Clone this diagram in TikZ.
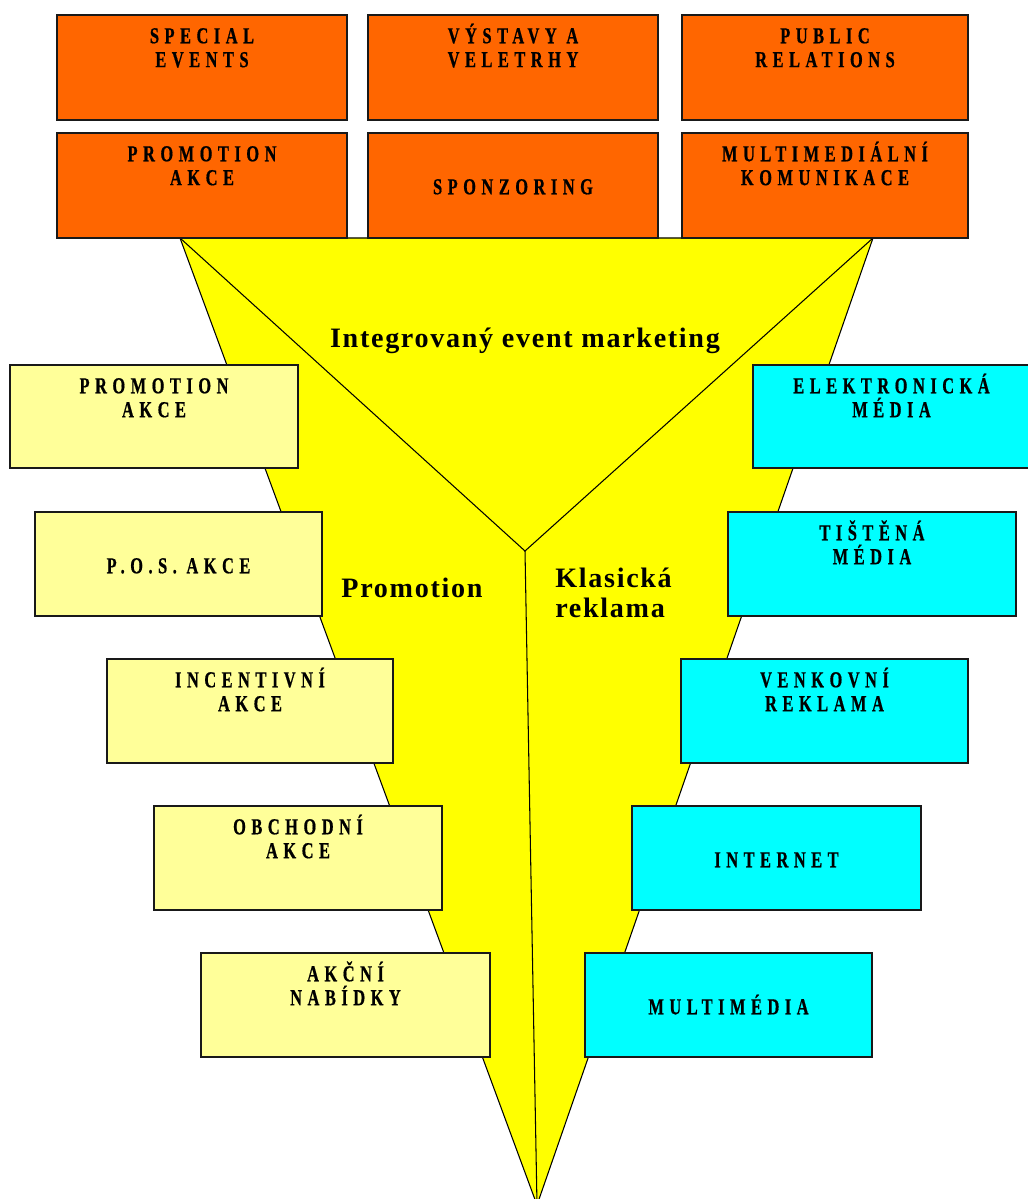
\documentclass[tikz,border=0pt]{standalone}
\usepackage{fontspec}
\setmainfont{Liberation Serif}
\newfontfamily\boxfont{Liberation Serif}[LetterSpace=24,FakeStretch=0.72,BoldFeatures={FakeBold=0.6}]
\newfontfamily\lblfont{Liberation Serif}[LetterSpace=6]
\usetikzlibrary{calc}
\definecolor{orng}{HTML}{FF6600}
\definecolor{yel}{HTML}{FFFF00}
\definecolor{lyel}{HTML}{FFFF99}
\definecolor{cyn}{HTML}{00FFFF}
\newcommand\tline[1]{\strut\smash{#1}}
\begin{document}
\begin{tikzpicture}[x=0.02cm,y=-0.02cm,
  sz/.style 2 args={minimum width=#1*0.02cm, minimum height=#2*0.02cm},
  boxbase/.style={draw=black!90, line width=0.9pt, inner sep=0pt},
  obox/.style={boxbase, fill=orng},
  lbox/.style={boxbase, fill=lyel},
  cbox/.style={boxbase, fill=cyn},
  btxt/.style={font=\boxfont\bfseries\fontsize{13}{13.6}\selectfont, align=center, inner sep=0pt, anchor=north},
  big/.style={font=\lblfont\bfseries\fontsize{16}{17}\selectfont, inner sep=0pt},
  edge/.style={draw=black, line width=0.6pt}]
\fill[white] (0,0) rectangle (1027,1199);
\useasboundingbox (0,0) rectangle (1027,1199);
% funnel
\coordinate (tl) at (180,238);
\coordinate (tr) at (873,238);
\coordinate (ap) at (537,1205);
\coordinate (mid) at (525,551);
\fill[yel] (tl) -- (tr) -- (ap) -- cycle;
\draw[edge] (tl) -- (tr) -- (ap) -- cycle;
\draw[edge] (tl) -- (mid) -- (tr);
\draw[edge] (mid) -- (ap);
% top orange boxes
\node[obox, sz={290}{105}] (se) at (202,67.5) {};
\node[obox, sz={290}{105}] (vv) at (513,67.5) {};
\node[obox, sz={286}{105}] (pr) at (825,67.5) {};
\node[obox, sz={290}{105}] (pa) at (202,185.5) {};
\node[obox, sz={290}{105}] (sp) at (513,185.5) {};
\node[obox, sz={286}{105}] (mk) at (825,185.5) {};
\node[btxt] (se-t) at ($(se.north)+(0,12)$) {\tline{SPECIAL}\\\tline{EVENTS}};
\node[btxt] (vv-t) at ($(vv.north)+(0,12)$) {\tline{VÝSTAVY A}\\\tline{VELETRHY}};
\node[btxt] (pr-t) at ($(pr.north)+(0,12)$) {\tline{PUBLIC}\\\tline{RELATIONS}};
\node[btxt] (pa-t) at ($(pa.north)+(0,12)$) {\tline{PROMOTION}\\\tline{AKCE}};
\node[btxt] (sp-t) at ($(sp.north)+(0,45)$) {\tline{SPONZORING}};
\node[btxt] (mk-t) at ($(mk.north)+(0,12)$) {\tline{MULTIMEDIÁLNÍ}\\\tline{KOMUNIKACE}};
% left boxes
\node[lbox, sz={288}{103}] (l1) at (154,416.5) {};
\node[lbox, sz={287}{104}] (l2) at (178.5,564) {};
\node[lbox, sz={286}{104}] (l3) at (250,711) {};
\node[lbox, sz={288}{104}] (l4) at (298,858) {};
\node[lbox, sz={289}{104}] (l5) at (345.5,1005) {};
\node[btxt] (l1-t) at ($(l1.north)+(0,12)$) {\tline{PROMOTION}\\\tline{AKCE}};
\node[btxt] (l2-t) at ($(l2.north)+(0,45)$) {\tline{P.O.S. AKCE}};
\node[btxt] (l3-t) at ($(l3.north)+(0,12)$) {\tline{INCENTIVNÍ}\\\tline{AKCE}};
\node[btxt] (l4-t) at ($(l4.north)+(0,12)$) {\tline{OBCHODNÍ}\\\tline{AKCE}};
\node[btxt] (l5-t) at ($(l5.north)+(0,12)$) {\tline{AKČNÍ}\\\tline{NABÍDKY}};
% right boxes
\node[cbox, sz={277}{103}] (r1) at (891.5,416.5) {};
\node[cbox, sz={288}{104}] (r2) at (872,564) {};
\node[cbox, sz={287}{104}] (r3) at (824.5,711) {};
\node[cbox, sz={289}{104}] (r4) at (776.5,858) {};
\node[cbox, sz={287}{104}] (r5) at (728.5,1005) {};
\node[btxt] (r1-t) at ($(r1.north)+(0,12)$) {\tline{ELEKTRONICKÁ}\\\tline{MÉDIA}};
\node[btxt] (r2-t) at ($(r2.north)+(0,12)$) {\tline{TIŠTĚNÁ}\\\tline{MÉDIA}};
\node[btxt] (r3-t) at ($(r3.north)+(0,12)$) {\tline{VENKOVNÍ}\\\tline{REKLAMA}};
\node[btxt] (r4-t) at ($(r4.north)+(0,45)$) {\tline{INTERNET}};
\node[btxt] (r5-t) at ($(r5.north)+(0,45)$) {\tline{MULTIMÉDIA}};
% funnel labels
\node[big, anchor=base] (iem) at (525,347) {Integrovaný event marketing};
\node[big, anchor=base] (prom) at (412,597) {Promotion};
\node[big, anchor=north west, align=left] (klas) at (555,566) {\tline{Klasická}\\\tline{reklama}};
\end{tikzpicture}
\end{document}
